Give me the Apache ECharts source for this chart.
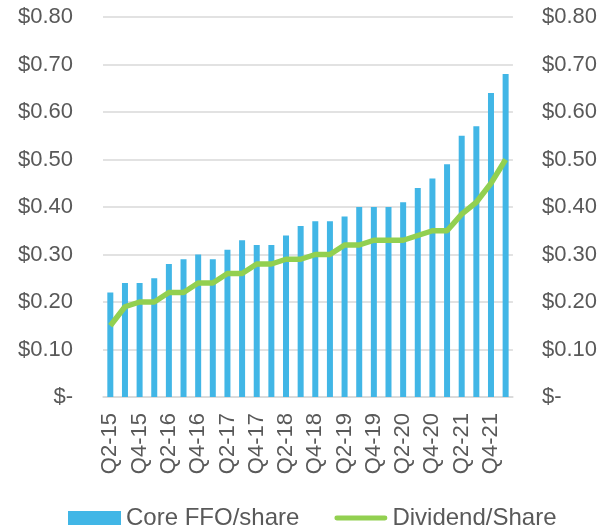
<!DOCTYPE html>
<html>
<head>
<meta charset="utf-8">
<script src="https://cdn.jsdelivr.net/npm/echarts@6/dist/echarts.min.js"></script>
<style>
  html, body { margin: 0; padding: 0; background: #fff; }
  #main { width: 600px; height: 531px; }
</style>
</head>
<body>
<div id="main"></div>
<script>
// Quarters Q2-15 .. Q1-22
const quarters = [
  'Q2-15', 'Q3-15', 'Q4-15',
  'Q1-16', 'Q2-16', 'Q3-16', 'Q4-16',
  'Q1-17', 'Q2-17', 'Q3-17', 'Q4-17',
  'Q1-18', 'Q2-18', 'Q3-18', 'Q4-18',
  'Q1-19', 'Q2-19', 'Q3-19', 'Q4-19',
  'Q1-20', 'Q2-20', 'Q3-20', 'Q4-20',
  'Q1-21', 'Q2-21', 'Q3-21', 'Q4-21',
  'Q1-22'
];

const coreFfo = [
  0.22, 0.24, 0.24, 0.25, 0.28, 0.29, 0.30, 0.29, 0.31, 0.33,
  0.32, 0.32, 0.34, 0.36, 0.37, 0.37, 0.38, 0.40, 0.40, 0.40,
  0.41, 0.44, 0.46, 0.49, 0.55, 0.57, 0.64, 0.68
];

const dividend = [
  0.15, 0.19, 0.20, 0.20, 0.22, 0.22, 0.24, 0.24, 0.26, 0.26,
  0.28, 0.28, 0.29, 0.29, 0.30, 0.30, 0.32, 0.32, 0.33, 0.33,
  0.33, 0.34, 0.35, 0.35, 0.385, 0.41, 0.45, 0.50
];

const textColor = '#595959';
const font = 'Liberation Sans, Arial, sans-serif';

const money = (v) => (v === 0 ? '$-' : '$' + v.toFixed(2));

// thick line icon for the legend; the dots at the corners keep the box 55x14
const lineIcon = 'path://M0,0L0.01,0M0,14L0.01,14M55,0L54.99,0' +
  'M2.5,4.5L52.5,4.5A2.5,2.5,0,0,1,52.5,9.5L2.5,9.5A2.5,2.5,0,0,1,2.5,4.5Z';

const valueAxis = (pos) => ({
  type: 'value',
  position: pos,
  min: 0,
  max: 0.8,
  interval: 0.1,
  axisLine: { show: false },
  axisTick: { show: false },
  splitLine: { show: pos === 'left', lineStyle: { color: '#d9d9d9', width: 1.5 } },
  axisLabel: {
    color: textColor,
    fontFamily: font,
    fontSize: 22,
    margin: pos === 'left' ? 30 : 29,
    formatter: money
  }
});

const chart = echarts.init(document.getElementById('main'));
chart.setOption({
  animation: false,
  grid: { left: 103, right: 87, top: 17, bottom: 134, containLabel: false },
  legend: {
    left: 68,
    top: 506,
    padding: 0,
    itemWidth: 53,
    itemHeight: 14,
    itemGap: 35,
    textStyle: { color: textColor, fontFamily: font, fontSize: 24 },
    data: [
      { name: 'Core FFO/share', icon: 'rect' },
      { name: 'Dividend/Share', icon: lineIcon }
    ]
  },
  xAxis: {
    type: 'category',
    data: quarters,
    axisLine: { lineStyle: { color: '#d9d9d9', width: 1.5 } },
    axisTick: { show: false },
    axisLabel: {
      color: textColor,
      fontFamily: font,
      fontSize: 22,
      rotate: 90,
      interval: 1,
      margin: 16
    }
  },
  yAxis: [valueAxis('left'), valueAxis('right')],
  series: [
    {
      name: 'Core FFO/share',
      type: 'bar',
      data: coreFfo,
      barWidth: 6,
      itemStyle: { color: '#41b6e6' }
    },
    {
      name: 'Dividend/Share',
      type: 'line',
      data: dividend,
      symbol: 'none',
      lineStyle: { color: '#92d050', width: 5.5 },
      itemStyle: { color: '#92d050' }
    }
  ]
});
</script>
</body>
</html>
